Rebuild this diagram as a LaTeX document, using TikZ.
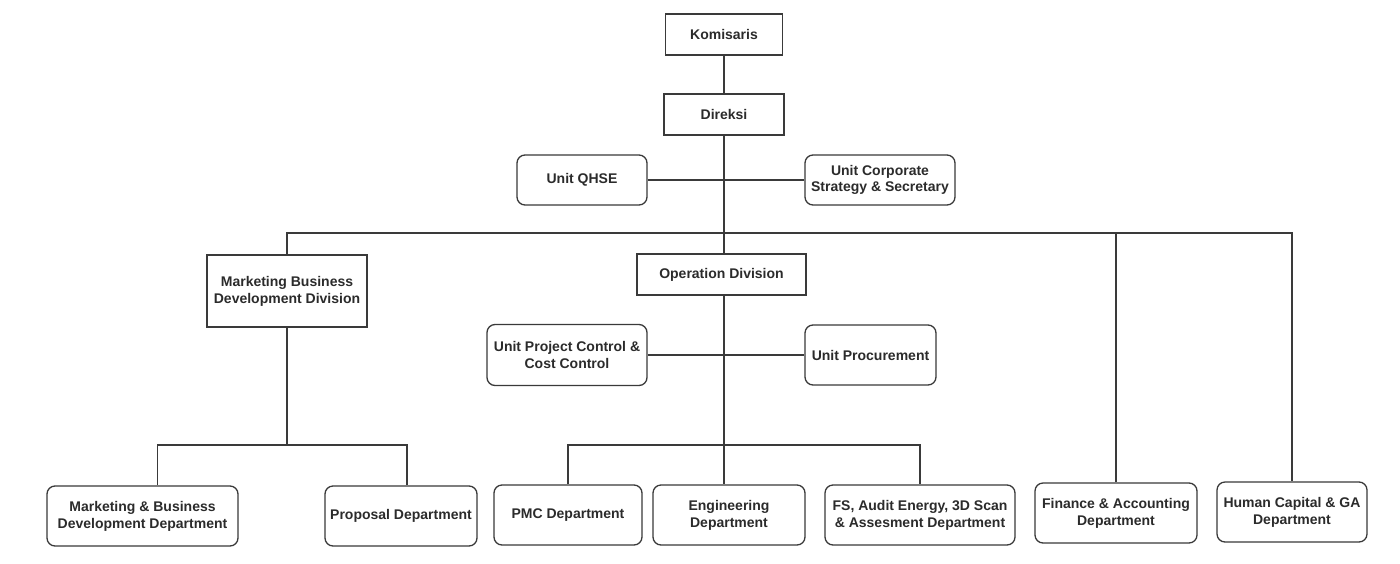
\documentclass[tikz,border=0pt]{standalone}
\usepackage{fontspec}
\setmainfont{Liberation Sans}
\definecolor{linec}{HTML}{3A3A3A}
\definecolor{textc}{HTML}{2B2B2B}
\begin{document}
\begin{tikzpicture}[x=1pt,y=-1pt,
  base/.style={draw=linec, line width=1.3pt, fill=white, text=textc,
    font=\bfseries\fontsize{14}{16.8}\selectfont, align=center, inner sep=0pt},
  sq/.style={base, rectangle},
  rnd/.style={base, rounded corners=8pt},
  conn/.style={draw=linec, line width=1.3pt}]
\useasboundingbox[fill=white] (0,0) rectangle (1400,563);

\coordinate (busT) at (0,233);
\coordinate (busB) at (0,445);

\node[sq, minimum width=117pt, minimum height=41pt] (kom) at (724,34.5) {Komisaris};
\node[sq, minimum width=120pt, minimum height=41pt] (dir) at (724,114.5) {Direksi};
\node[rnd, minimum width=130pt, minimum height=50pt] (qhse) at (582,180) {Unit QHSE};
\node[rnd, minimum width=150pt, minimum height=50pt] (corp) at (880,180) {Unit Corporate\\Strategy \& Secretary};
\node[sq, minimum width=160pt, minimum height=72pt] (mbdd) at (287,291) {Marketing Business\\Development Division};
\node[sq, minimum width=169pt, minimum height=41pt] (op) at (721.5,274.5) {Operation Division};
\node[rnd, minimum width=160pt, minimum height=61pt] (upc) at (567,355) {Unit Project Control \&\\Cost Control};
\node[rnd, minimum width=131pt, minimum height=60pt] (proc) at (870.5,355) {Unit Procurement};
\node[rnd, minimum width=191pt, minimum height=60pt] (mdept) at (142.5,516) {Marketing \& Business\\Development Department};
\node[rnd, minimum width=152pt, minimum height=60pt] (prop) at (401,516) {Proposal Department};
\node[rnd, minimum width=148pt, minimum height=60pt] (pmc) at (568,515) {PMC Department};
\node[rnd, minimum width=152pt, minimum height=60pt] (eng) at (729,515) {Engineering\\Department};
\node[rnd, minimum width=190pt, minimum height=60pt] (fs) at (920,515) {FS, Audit Energy, 3D Scan\\\& Assesment Department};
\node[rnd, minimum width=162pt, minimum height=60pt] (fin) at (1116,513) {Finance \& Accounting\\Department};
\node[rnd, minimum width=150pt, minimum height=60pt] (hc) at (1292,512) {Human Capital \& GA\\Department};

\draw[conn] (kom.south) -- (dir.north);
\draw[conn] (dir.south) -- (dir.south |- op.north);
\draw[conn] (qhse.east) -- (qhse.east -| corp.west);
\draw[conn] (mbdd.north) -- (mbdd.north |- busT) -- (hc.north |- busT) -- (hc.north);
\draw[conn] (fin.north) -- (fin.north |- busT);
\draw[conn] (dir.south |- op.south) -- (dir.south |- eng.north);
\draw[conn] (upc.east) -- (upc.east -| proc.west);
\draw[conn] (pmc.north) -- (pmc.north |- busB) -- (fs.north |- busB) -- (fs.north);
\draw[conn] (mbdd.south) -- (mbdd.south |- busB);
\draw[conn] ([xshift=15pt]mdept.north) -- ([xshift=15pt]mdept.north |- busB)
  -- ([xshift=6pt]prop.north |- busB) -- ([xshift=6pt]prop.north);
\end{tikzpicture}
\end{document}
